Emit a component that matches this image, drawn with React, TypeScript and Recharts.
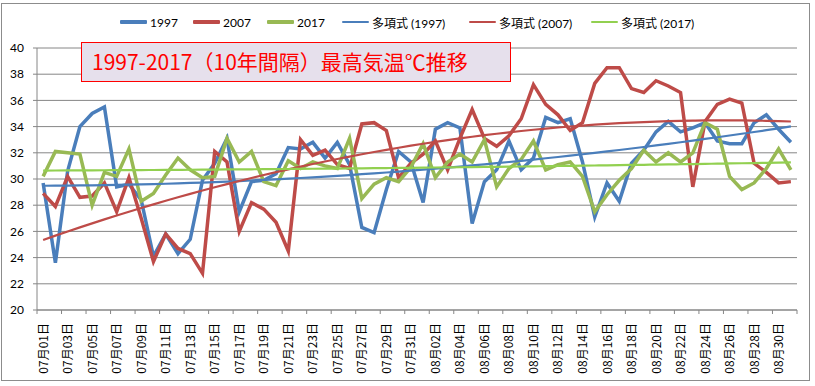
import { LineChart, Line, XAxis, YAxis, CartesianGrid } from 'recharts';

// 07月01日 .. 08月31日
const months = ['07', '08'];
const days: string[] = [];
for (const m of months) {
  for (let d = 1; d <= 31; d++) days.push(`${m}月${String(d).padStart(2, '0')}日`);
}

const temps1997 = [
  29.7, 23.6, 30.6, 34.0, 35.0, 35.5, 29.4, 29.6, 28.4, 24.1,
  25.8, 24.3, 25.4, 29.9, 31.2, 33.1, 27.5, 29.8, 29.9, 30.4,
  32.4, 32.3, 32.8, 31.6, 32.8, 31.1, 26.3, 25.9, 29.2, 32.1,
  31.3, 28.2, 33.8, 34.3, 33.9, 26.6, 29.8, 30.7, 32.9, 30.7,
  31.6, 34.7, 34.3, 34.6, 31.3, 27.1, 29.7, 28.3, 31.2, 32.2,
  33.6, 34.4, 33.6, 33.9, 34.3, 32.9, 32.7, 32.7, 34.3, 34.9,
  33.8, 32.8,
];
const temps2007 = [
  28.9, 27.9, 30.2, 28.6, 28.7, 29.7, 27.5, 30.1, 27.0, 23.7,
  25.8, 24.7, 24.3, 22.8, 32.1, 31.3, 26.0, 28.2, 27.7, 26.7,
  24.5, 33.0, 31.8, 32.2, 31.1, 30.8, 34.2, 34.3, 33.7, 30.1,
  31.2, 31.9, 32.9, 30.7, 33.1, 35.3, 33.1, 32.5, 33.3, 34.6,
  37.2, 35.7, 34.9, 33.7, 34.3, 37.3, 38.5, 38.5, 36.9, 36.6,
  37.5, 37.1, 36.6, 29.4, 34.4, 35.7, 36.1, 35.8, 31.2, 30.5,
  29.7, 29.8,
];
const temps2017 = [
  30.2, 32.1, 32.0, 31.9, 28.0, 30.5, 30.2, 32.3, 28.3, 28.9,
  30.3, 31.6, 30.7, 30.1, 30.2, 33.1, 31.3, 32.1, 29.8, 29.5,
  31.4, 30.8, 31.3, 31.0, 30.8, 33.1, 28.5, 29.6, 30.1, 29.8,
  30.9, 32.7, 30.1, 31.3, 31.9, 31.3, 33.0, 29.4, 30.8, 31.5,
  32.9, 30.7, 31.1, 31.3, 30.2, 27.5, 28.8, 29.9, 30.8, 32.2,
  31.3, 32.0, 31.3, 32.0, 34.3, 33.8, 30.2, 29.2, 29.7, 30.8,
  32.3, 30.7,
];
const yTicks = [20, 22, 24, 26, 28, 30, 32, 34, 36, 38, 40];

// Excel "多項式" trendline (order 2), least squares on x = 1..n
function polyTrend(ys: number[]): number[] {
  const n = ys.length;
  let s0 = 0, s1 = 0, s2 = 0, s3 = 0, s4 = 0, t0 = 0, t1 = 0, t2 = 0;
  ys.forEach((y, i) => {
    const x = i + 1;
    s0 += 1; s1 += x; s2 += x * x; s3 += x ** 3; s4 += x ** 4;
    t0 += y; t1 += x * y; t2 += x * x * y;
  });
  const m = [
    [s4, s3, s2, t2],
    [s3, s2, s1, t1],
    [s2, s1, s0, t0],
  ];
  for (let c = 0; c < 3; c++) {
    for (let r = c + 1; r < 3; r++) {
      const f = m[r][c] / m[c][c];
      for (let k = c; k < 4; k++) m[r][k] -= f * m[c][k];
    }
  }
  const coef = [0, 0, 0];
  for (let r = 2; r >= 0; r--) {
    let s = m[r][3];
    for (let k = r + 1; k < 3; k++) s -= m[r][k] * coef[k];
    coef[r] = s / m[r][r];
  }
  const [a, b, c] = coef;
  return Array.from({ length: n }, (_, i) => a * (i + 1) ** 2 + b * (i + 1) + c);
}

const trend1997 = polyTrend(temps1997);
const trend2007 = polyTrend(temps2007);
const trend2017 = polyTrend(temps2017);

const data = days.map((day, i) => ({
  day,
  y1997: temps1997[i],
  y2007: temps2007[i],
  y2017: temps2017[i],
  t1997: trend1997[i],
  t2007: trend2007[i],
  t2017: trend2017[i],
}));

const BLUE = '#4a7ebb';
const RED = '#be4b48';
const GREEN = '#98b954';
const TREND_GREEN = '#92d050';
const GRID = '#868686';
const FONT = "Lato, 'Noto Sans CJK JP', sans-serif";
const CJK = "'Noto Sans CJK JP', sans-serif";

const PLOT_W = 760;
const BAND = PLOT_W / days.length;

const legendItems = [
  { label: '1997', color: BLUE, w: 4, left: 120 },
  { label: '2007', color: RED, w: 4, left: 193 },
  { label: '2017', color: GREEN, w: 4, left: 267 },
  { label: '多項式 (1997)', color: BLUE, w: 2.5, left: 342 },
  { label: '多項式 (2007)', color: RED, w: 2.5, left: 469 },
  { label: '多項式 (2017)', color: TREND_GREEN, w: 2.5, left: 591 },
];

function DayTick(props: any) {
  const { x, y, payload } = props;
  const idx = days.indexOf(payload.value);
  const left = x - BAND / 2;
  return (
    <g>
      <line x1={left} y1={y} x2={left} y2={y + 4} stroke={GRID} />
      {idx === days.length - 2 && (
        <line x1={x + BAND * 1.5} y1={y} x2={x + BAND * 1.5} y2={y + 4} stroke={GRID} />
      )}
      <text
        transform={`translate(${x + 4.5},${y + 13}) rotate(-90)`}
        textAnchor="end"
        fontSize={12}
        fontFamily={CJK}
        fill="#000"
      >
        {payload.value}
      </text>
    </g>
  );
}

export default function App() {
  return (
    <div style={{ position: 'absolute', left: 0, top: 0, width: 815, height: 386, background: '#fff', overflow: 'hidden' }}>
      <div style={{ position: 'absolute', left: 1, top: 3, width: 809, height: 378, border: '1px solid #8c8c8c', boxSizing: 'border-box' }} />
      <LineChart
        width={815}
        height={386}
        data={data}
        margin={{ top: 48, right: 18, left: 7, bottom: 0 }}
        style={{ position: 'absolute', left: 0, top: 0 }}
      >
        <CartesianGrid vertical={false} stroke={GRID} strokeWidth={1} />
        <XAxis
          dataKey="day"
          interval={1}
          height={76}
          padding={{ left: BAND / 2, right: BAND / 2 }}
          axisLine={{ stroke: GRID }}
          tickLine={false}
          tickSize={0}
          tickMargin={0}
          tick={(p: any) => <DayTick {...p} />}
        />
        <YAxis
          domain={[20, 40]}
          ticks={yTicks}
          width={30}
          interval={0}
          axisLine={{ stroke: GRID }}
          tickLine={{ stroke: GRID }}
          tickSize={4}
          tickMargin={9}
          tick={{ fontSize: 12, fill: '#000', fontFamily: FONT }}
        />
        <Line dataKey="y1997" stroke={BLUE} strokeWidth={3.5} dot={false} type="linear" isAnimationActive={false} />
        <Line dataKey="y2007" stroke={RED} strokeWidth={3.5} dot={false} type="linear" isAnimationActive={false} />
        <Line dataKey="y2017" stroke={GREEN} strokeWidth={3.5} dot={false} type="linear" isAnimationActive={false} />
        <Line dataKey="t1997" stroke={BLUE} strokeWidth={2.2} dot={false} type="monotone" isAnimationActive={false} />
        <Line dataKey="t2007" stroke={RED} strokeWidth={2.2} dot={false} type="monotone" isAnimationActive={false} />
        <Line dataKey="t2017" stroke={TREND_GREEN} strokeWidth={2.2} dot={false} type="monotone" isAnimationActive={false} />
      </LineChart>
      {legendItems.map((it) => (
        <div
          key={it.label}
          style={{ position: 'absolute', left: it.left, top: 13, height: 18, display: 'flex', alignItems: 'center', fontFamily: FONT, fontSize: 12, color: '#000', whiteSpace: 'nowrap' }}
        >
          <span style={{ display: 'inline-block', width: 27, height: it.w, background: it.color, marginRight: 3, borderRadius: 1 }} />
          {it.label}
        </div>
      ))}
      <div
        style={{
          position: 'absolute', left: 81, top: 42, width: 430, height: 40, boxSizing: 'border-box',
          background: '#e6e0ec', border: '1.5px solid #ff0000', color: '#ff0000',
          fontFamily: CJK, fontSize: 21, lineHeight: '37px', paddingLeft: 10, whiteSpace: 'nowrap',
        }}
      >
        1997-2017（10年間隔）最高気温℃推移
      </div>
    </div>
  );
}
